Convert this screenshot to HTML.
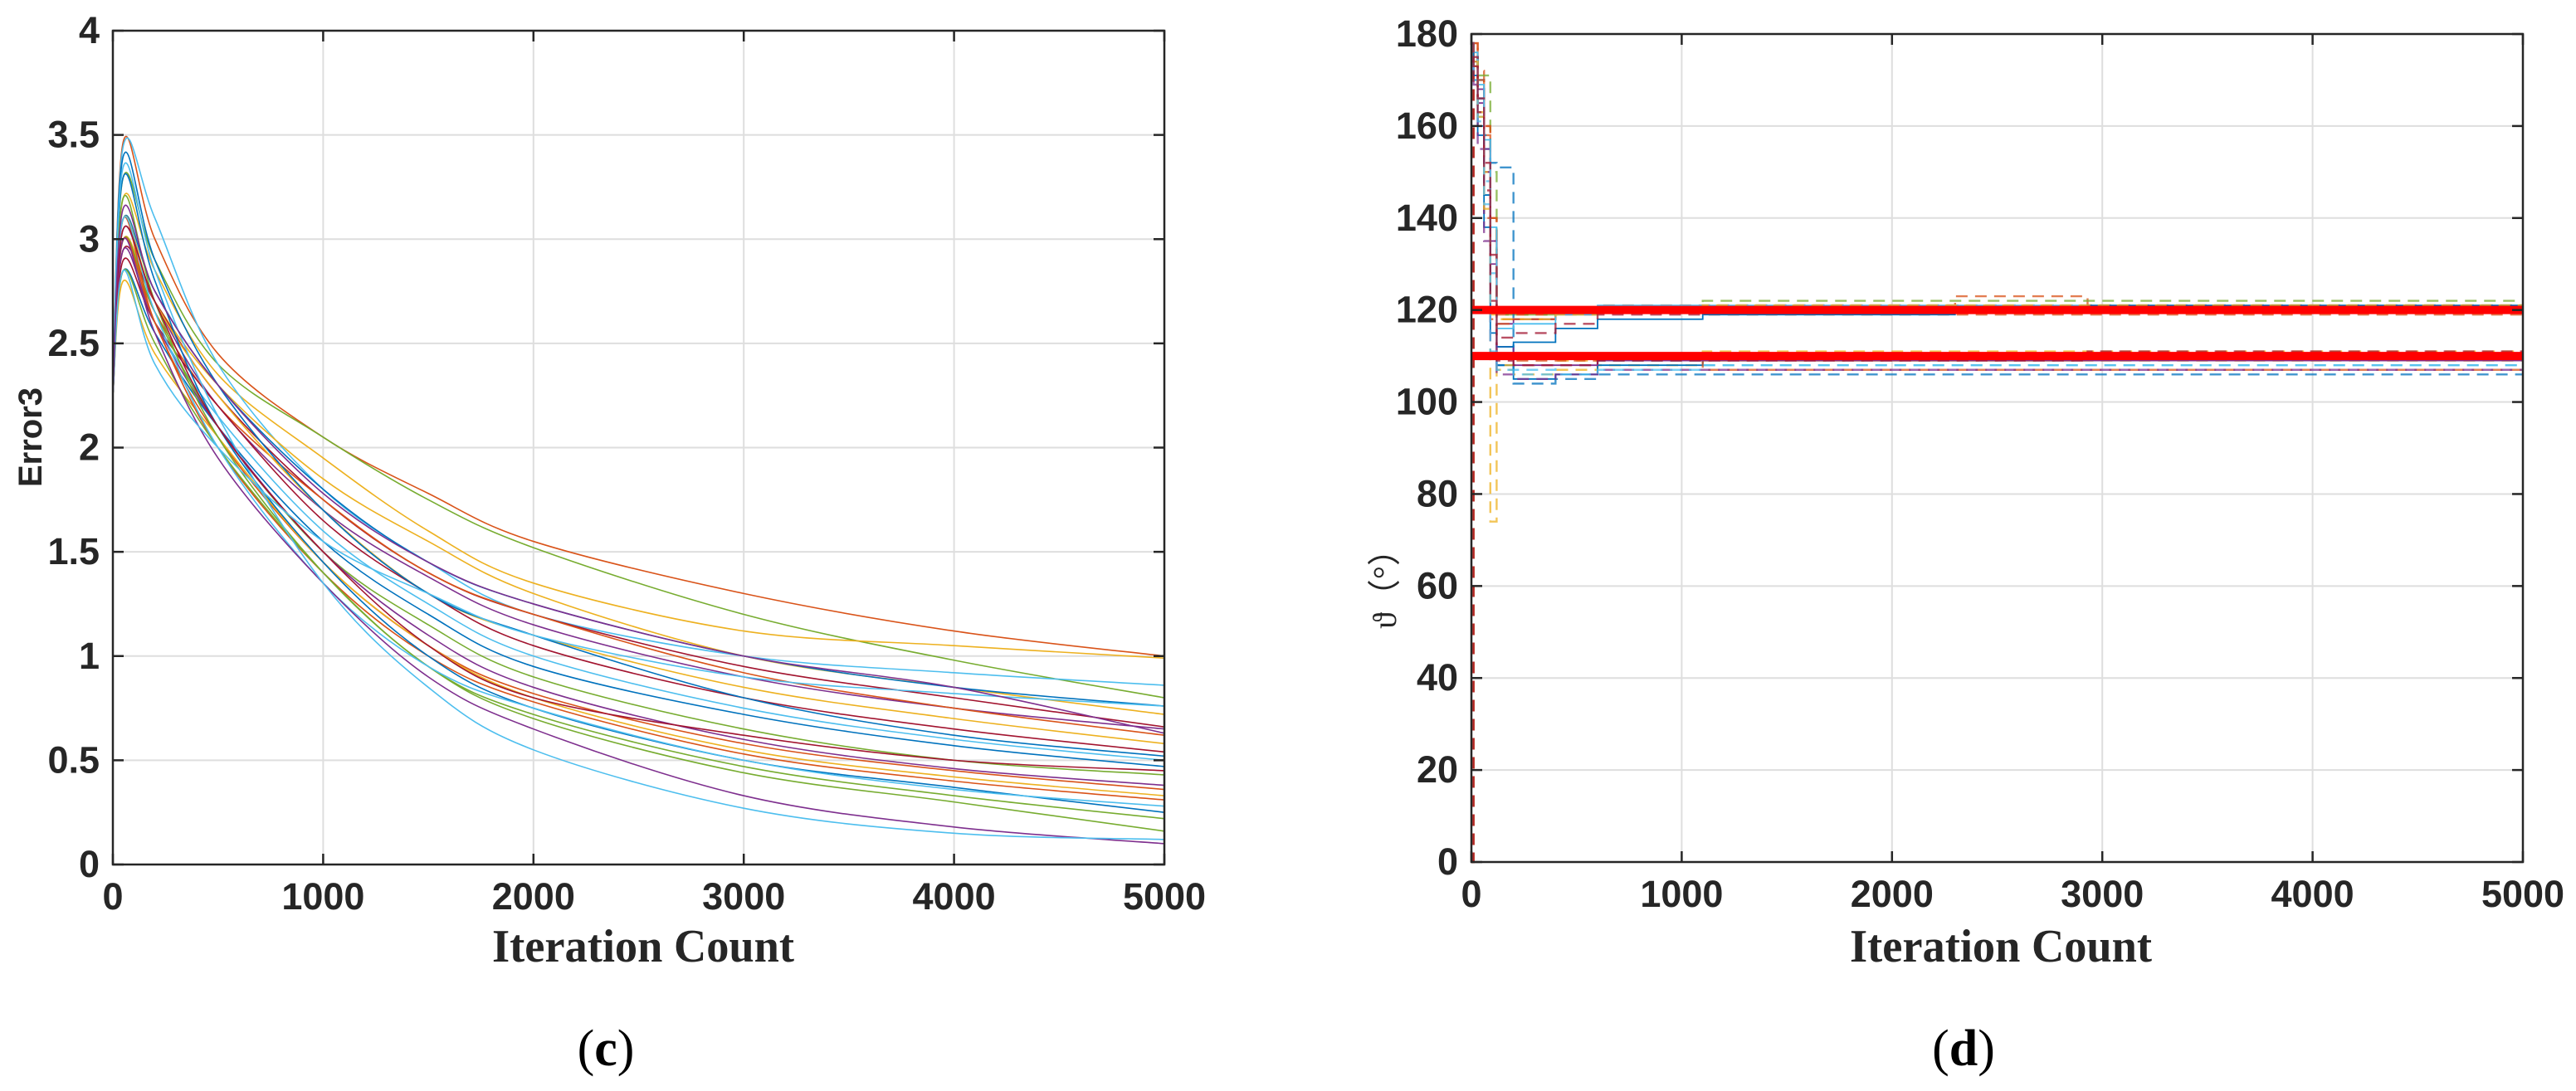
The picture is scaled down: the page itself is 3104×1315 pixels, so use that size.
<!DOCTYPE html>
<html><head><meta charset="utf-8"><style>
body{margin:0;background:#fff;overflow:hidden}
svg{display:block}
.tk{font-family:"Liberation Sans Narrow","Liberation Sans",sans-serif;font-weight:bold;font-size:45px;fill:#262626}
.xl{font-family:"Liberation Serif",serif;font-weight:bold;font-size:56px;fill:#262626}
.cap{font-family:"Liberation Serif",serif;font-size:62px;fill:#000}
</style></head><body>
<svg id="fig" width="3104" height="1315" viewBox="0 0 3104 1315" xmlns="http://www.w3.org/2000/svg"></svg>
<script>
// ---- data (c) ----
const errX=[0,50,200,500,1000,1500,2000,3000,4000,5000];
const errSeries=[
[2.25,3.47,3.0,2.45,2.05,1.78,1.55,1.3,1.12,1.0],
[2.25,3.3,2.9,2.4,2.05,1.75,1.52,1.2,0.98,0.8],
[2.25,3.2,2.85,2.35,1.95,1.6,1.35,1.12,1.05,0.99],
[2.25,3.45,3.1,2.4,1.8,1.45,1.2,1.0,0.92,0.86],
[2.25,3.0,2.7,2.3,1.85,1.55,1.3,1.0,0.85,0.72],
[2.25,3.1,2.75,2.3,1.8,1.45,1.25,1.0,0.85,0.76],
[2.25,2.95,2.7,2.25,1.75,1.4,1.2,0.95,0.8,0.66],
[2.25,3.05,2.7,2.2,1.7,1.38,1.15,0.9,0.75,0.65],
[2.25,3.0,2.65,2.2,1.75,1.4,1.2,0.92,0.75,0.62],
[2.25,3.1,2.7,2.25,1.7,1.3,1.1,0.85,0.7,0.58],
[2.25,2.9,2.6,2.2,1.65,1.3,1.05,0.8,0.65,0.54],
[2.25,3.4,2.9,2.3,1.7,1.3,1.1,0.8,0.62,0.52],
[2.25,3.0,2.6,2.15,1.6,1.25,1.0,0.75,0.6,0.5],
[2.25,2.85,2.55,2.1,1.55,1.2,0.95,0.72,0.57,0.47],
[2.25,3.0,2.65,2.1,1.5,1.15,0.9,0.65,0.5,0.43],
[2.25,2.95,2.6,2.1,1.5,1.1,0.85,0.6,0.46,0.38],
[2.25,3.1,2.6,2.05,1.45,1.05,0.82,0.58,0.45,0.36],
[2.25,2.8,2.45,2.05,1.45,1.05,0.8,0.55,0.42,0.33],
[2.25,3.0,2.6,2.0,1.4,1.0,0.78,0.53,0.4,0.31],
[2.25,3.3,2.8,2.1,1.45,1.0,0.75,0.5,0.37,0.25],
[2.25,2.85,2.5,2.0,1.4,0.95,0.72,0.47,0.33,0.22],
[2.25,3.2,2.7,2.05,1.4,0.95,0.7,0.44,0.3,0.16],
[2.25,3.1,2.65,2.0,1.35,0.95,0.75,0.5,0.36,0.28],
[2.25,3.0,2.55,1.95,1.35,0.9,0.65,0.33,0.18,0.1],
[2.25,3.35,2.85,2.15,1.35,0.85,0.55,0.27,0.15,0.12],
[2.25,3.05,2.7,2.1,1.5,1.05,0.8,0.62,0.5,0.45],
[2.25,2.85,2.4,2.0,1.55,1.3,1.1,0.9,0.82,0.76],
[2.25,3.15,2.75,2.3,1.78,1.45,1.25,1.0,0.85,0.63]
];
const errColors=["#D95319","#77AC30","#EDB120","#4DBEEE","#EDB120","#0072BD","#A2142F","#7E2F8E","#D95319","#EDB120","#A2142F","#0072BD","#4DBEEE","#0072BD","#77AC30","#7E2F8E","#D95319","#EDB120","#D95319","#0072BD","#77AC30","#77AC30","#4DBEEE","#7E2F8E","#4DBEEE","#A2142F","#4DBEEE","#7E2F8E"];
const errYTicks=[0,0.5,1,1.5,2,2.5,3,3.5,4];
const errYLabels=["0","0.5","1","1.5","2","2.5","3","3.5","4"];
const xTicks=[0,1000,2000,3000,4000,5000];
// ---- data (d) ----
const thX=[0,10,30,60,90,120,200,400,600,1100,2300,2930,5000];
const thSeries=[
[0,178,172,160,140,118,119,120,121,121,121,121,121],
[0,176,168,150,125,107,106,107,108,109,109,109,109],
[178,174,165,150,130,117,118,119,120,120,120,120,120],
[178,170,160,145,120,108,105,106,108,110,110,110,110],
[0,177,170,158,135,119,119,120,120,121,123,121,121],
[178,172,162,148,128,110,107,108,109,108,108,108,108],
[178,175,171,171,150,119,119,120,120,122,122,122,122],
[178,176,166,155,110,108,104,105,106,106,106,106,106],
[178,173,163,150,74,108,108,109,110,111,111,111,111],
[178,175,170,158,152,151,110,110,110,110,110,110,110],
[0,178,170,160,140,117,118,119,120,119,119,119,119],
[178,172,160,140,118,110,109,109,110,107,107,107,107],
[178,174,168,155,135,112,108,108,109,109,109,109,109],
[178,176,169,157,138,116,117,119,121,121,121,121,121],
[178,171,158,138,115,112,113,116,118,119,120,121,122],
[178,169,155,135,113,106,105,106,107,107,107,107,107],
[178,174,162,142,119,118,118,119,120,121,121,121,121],
[178,170,161,143,111,107,106,106,107,108,108,108,108],
[178,173,166,152,132,114,115,117,119,120,120,120,120],
[0,175,163,146,122,109,108,108,109,109,109,111,111]
];
const thColors=["#D95319","#EDB120","#7E2F8E","#0072BD","#D95319","#4DBEEE","#77AC30","#0072BD","#EDB120","#0072BD","#D95319","#D95319","#7E2F8E","#4DBEEE","#0072BD","#7E2F8E","#EDB120","#4DBEEE","#A2142F","#A2142F"];
const thDashed=[1,1,0,0,1,1,1,1,1,1,1,1,0,0,0,1,1,1,1,1];
const thRef=[120,110];
const thYTicks=[0,20,40,60,80,100,120,140,160,180];

const NS="http://www.w3.org/2000/svg";
const svg=document.getElementById('fig');
function mk(tag,attrs,parent){const e=document.createElementNS(NS,tag);for(const k in attrs)e.setAttribute(k,attrs[k]);(parent||svg).appendChild(e);return e;}

function axes(g,L,R,T,B,xmax,ymax,yt,name){
  const sx=v=>L+(R-L)*v/xmax, sy=v=>B-(B-T)*v/ymax;
  for(const t of xTicks){
    const l=mk('line',{x1:sx(t),x2:sx(t),y1:T,y2:B,stroke:'#dedede','stroke-width':2},g);
    
  }
  for(const t of yt){
    const l=mk('line',{x1:L,x2:R,y1:sy(t),y2:sy(t),stroke:'#dedede','stroke-width':2},g);
    
  }
  return {sx,sy};
}
function frame(g,L,R,T,B,sx,sy,yt,yl,name){
  const r=mk('rect',{x:L,y:T,width:R-L,height:B-T,fill:'none',stroke:'#262626','stroke-width':2.5},g);
  
  xTicks.forEach(t=>{
    mk('line',{x1:sx(t),x2:sx(t),y1:B,y2:B-13,stroke:'#262626','stroke-width':2.5},g);
    mk('line',{x1:sx(t),x2:sx(t),y1:T,y2:T+13,stroke:'#262626','stroke-width':2.5},g);
    const tx=mk('text',{x:sx(t),y:B+54,'text-anchor':'middle',class:'tk'},g);tx.textContent=t;
    
  });
  yt.forEach((t,i)=>{
    mk('line',{x1:L,x2:L+13,y1:sy(t),y2:sy(t),stroke:'#262626','stroke-width':2.5},g);
    mk('line',{x1:R,x2:R-13,y1:sy(t),y2:sy(t),stroke:'#262626','stroke-width':2.5},g);
    const tx=mk('text',{x:L-16,y:sy(t)+15,'text-anchor':'end',class:'tk'},g);tx.textContent=yl[i];
    
  });
}
function smoothPath(pts){
  let d='M'+pts[0][0]+','+pts[0][1];
  for(let i=0;i<pts.length-1;i++){
    const p0=pts[Math.max(0,i-1)],p1=pts[i],p2=pts[i+1],p3=pts[Math.min(pts.length-1,i+2)];
    const c1=[p1[0]+(p2[0]-p0[0])/6,p1[1]+(p2[1]-p0[1])/6],c2=[p2[0]-(p3[0]-p1[0])/6,p2[1]-(p3[1]-p1[1])/6];
    d+=` C${c1[0]},${c1[1]} ${c2[0]},${c2[1]} ${p2[0]},${p2[1]}`;
  }
  return d;
}

// panel c
const gc=mk('g',{});

const Lc=136,Rc=1403,Tc=37,Bc=1042;
const ac=axes(gc,Lc,Rc,Tc,Bc,5000,4,errYTicks,'c');
errSeries.forEach((s,i)=>{
  const pts=s.map((v,j)=>[ac.sx(errX[j]),ac.sy(v)]);
  const p=mk('path',{d:smoothPath(pts),fill:'none',stroke:errColors[i%errColors.length],'stroke-width':1.6},gc);
  
});
frame(gc,Lc,Rc,Tc,Bc,ac.sx,ac.sy,errYTicks,errYLabels,'c');
let t=mk('text',{x:775,y:1159,'text-anchor':'middle',class:'xl',textLength:364,lengthAdjust:'spacingAndGlyphs'},gc);t.textContent='Iteration Count';

t=mk('text',{x:0,y:0,'text-anchor':'middle',class:'tk',transform:'translate(50,527) rotate(-90)',style:'font-size:40px'},gc);t.textContent='Error3';

t=mk('text',{x:730,y:1284,'text-anchor':'middle',class:'cap'},gc);

t.innerHTML='(<tspan font-weight="bold">c</tspan>)';

// panel d
const gd=mk('g',{});

const Ld=1773,Rd=3040,Td=41,Bd=1039;
const ad=axes(gd,Ld,Rd,Td,Bd,5000,180,thYTicks,'d');
thSeries.forEach((s,i)=>{
  let d='M'+ad.sx(thX[0])+','+ad.sy(s[0]);
  for(let j=1;j<s.length;j++){d+=' H'+ad.sx(thX[j])+' V'+ad.sy(s[j]);}
  const p=mk('path',{d,fill:'none',stroke:thColors[i],'stroke-width':thDashed[i]?2.4:1.8,'stroke-dasharray':thDashed[i]?'14 9':'none',opacity:thDashed[i]?0.75:1},gd);
  
});
thRef.forEach(v=>{
  const l=mk('line',{x1:ad.sx(0),x2:ad.sx(5000),y1:ad.sy(v),y2:ad.sy(v),stroke:'#ff0000','stroke-width':10},gd);
  
});
frame(gd,Ld,Rd,Td,Bd,ad.sx,ad.sy,thYTicks,thYTicks.map(String),'d');
t=mk('text',{x:2411,y:1159,'text-anchor':'middle',class:'xl',textLength:364,lengthAdjust:'spacingAndGlyphs'},gd);t.textContent='Iteration Count';

t=mk('text',{x:0,y:0,'text-anchor':'middle','font-family':'"Liberation Serif","Noto Sans CJK SC",serif','font-size':'40',fill:'#262626',transform:'translate(1682,700) rotate(-90)'},gd);t.textContent='ϑ（°）';

t=mk('text',{x:2366,y:1284,'text-anchor':'middle',class:'cap'},gd);

t.innerHTML='(<tspan font-weight="bold">d</tspan>)';
</script>
</body></html>
